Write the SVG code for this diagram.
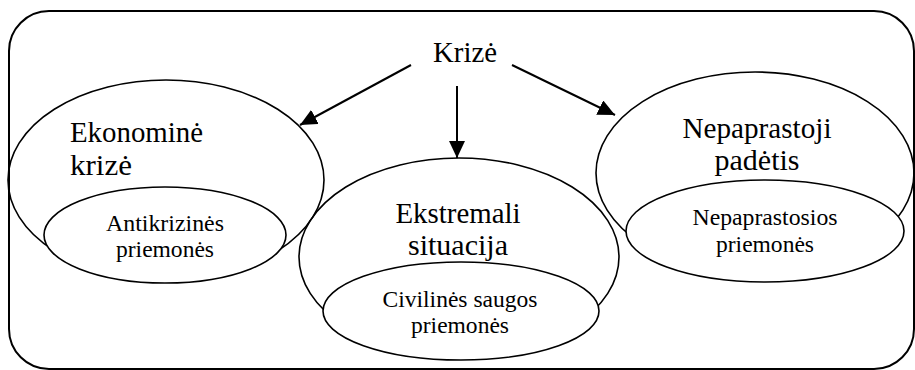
<svg xmlns="http://www.w3.org/2000/svg" width="915" height="370" viewBox="0 0 915 370">
<style>
.frame{fill:none;stroke:#000;stroke-width:2}
.outer{fill:none;stroke:#000;stroke-width:1.6}
.inner{fill:#fff;stroke:#000;stroke-width:1.6}
text{fill:#000}
.big{font-size:29px}
.small{font-size:24px;text-anchor:middle}
.conn{stroke:#000;stroke-width:2;fill:none}
</style>
<defs>
<marker id="ah" markerUnits="userSpaceOnUse" markerWidth="17" markerHeight="16" refX="17" refY="8" orient="auto">
<path d="M0,0 L17,8 L0,16 z" fill="#000"/>
</marker>
</defs>
<rect class="frame" x="9" y="11" width="905" height="358" rx="40" ry="40"/>
<g font-family="Liberation Serif">
<g id="krize">
<text class="big" x="465" y="62" text-anchor="middle" textLength="64" lengthAdjust="spacingAndGlyphs">Krizė</text>
</g>
<g id="ekonomine">
<ellipse class="outer" cx="166" cy="180" rx="158" ry="100"/>
<text class="big" x="70" y="142" textLength="133" lengthAdjust="spacingAndGlyphs">Ekonominė</text>
<text class="big" x="70" y="175" textLength="62" lengthAdjust="spacingAndGlyphs">krizė</text>
</g>
<g id="ekstremali">
<ellipse class="outer" cx="459" cy="257" rx="160" ry="99"/>
<text class="big" x="458" y="223" text-anchor="middle" textLength="125" lengthAdjust="spacingAndGlyphs">Ekstremali</text>
<text class="big" x="458" y="255" text-anchor="middle" textLength="100" lengthAdjust="spacingAndGlyphs">situacija</text>
</g>
<g id="nepaprastoji">
<ellipse class="outer" cx="755" cy="173" rx="159" ry="101"/>
<text class="big" x="757" y="138" text-anchor="middle" textLength="149" lengthAdjust="spacingAndGlyphs">Nepaprastoji</text>
<text class="big" x="757" y="170" text-anchor="middle" textLength="85" lengthAdjust="spacingAndGlyphs">padėtis</text>
</g>
<g id="antikrizines">
<ellipse class="inner" cx="165" cy="235" rx="121" ry="48"/>
<text class="small" x="165" y="231" textLength="118" lengthAdjust="spacingAndGlyphs">Antikrizinės</text>
<text class="small" x="165" y="257" textLength="98" lengthAdjust="spacingAndGlyphs">priemonės</text>
</g>
<g id="civilines">
<ellipse class="inner" cx="461" cy="311" rx="138" ry="49"/>
<text class="small" x="460" y="307" textLength="155" lengthAdjust="spacingAndGlyphs">Civilinės saugos</text>
<text class="small" x="460" y="333" textLength="98" lengthAdjust="spacingAndGlyphs">priemonės</text>
</g>
<g id="nepaprastosios">
<ellipse class="inner" cx="765" cy="231" rx="139" ry="51"/>
<text class="small" x="765" y="225" textLength="145" lengthAdjust="spacingAndGlyphs">Nepaprastosios</text>
<text class="small" x="765" y="252" textLength="98" lengthAdjust="spacingAndGlyphs">priemonės</text>
</g>
</g>
<g id="connectors">
<line class="conn" x1="411" y1="65" x2="300" y2="125" marker-end="url(#ah)"/>
<line class="conn" x1="457" y1="86" x2="457" y2="158" marker-end="url(#ah)"/>
<line class="conn" x1="512" y1="65" x2="615" y2="115" marker-end="url(#ah)"/>
</g>
</svg>
